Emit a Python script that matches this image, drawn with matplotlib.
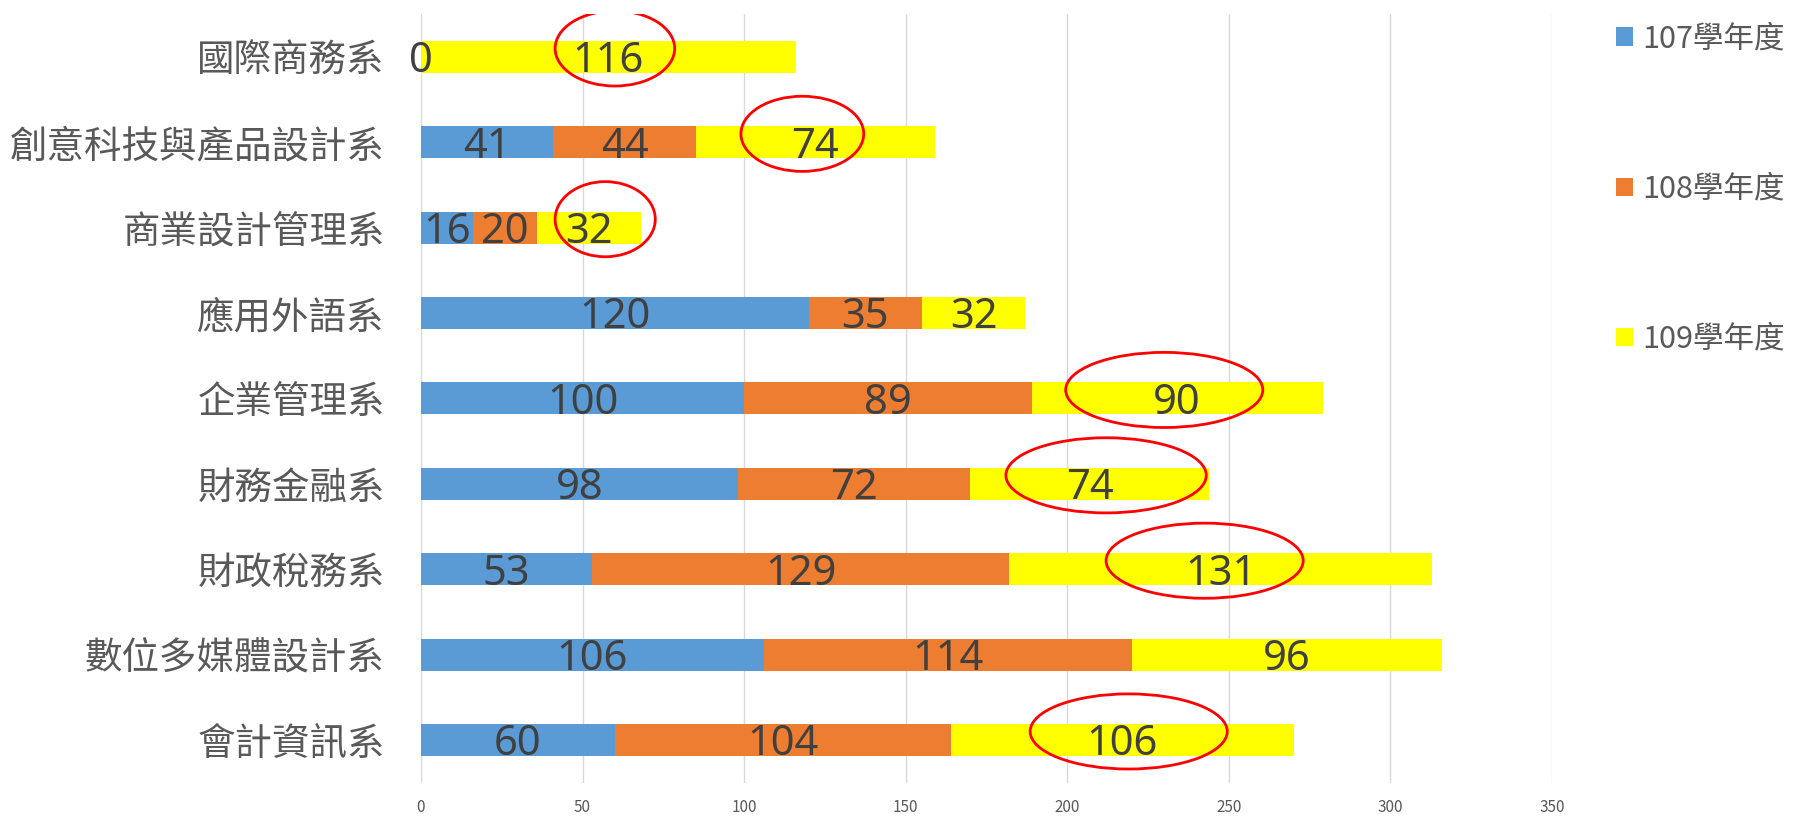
import numpy as np
import matplotlib.pyplot as plt
from matplotlib.patches import Ellipse

plt.rcParams['font.family'] = ['Noto Sans CJK TC', 'DejaVu Sans']

# categories, bottom to top
depts = ['會計資訊系', '數位多媒體設計系', '財政稅務系', '財務金融系', '企業管理系',
         '應用外語系', '商業設計管理系', '創意科技與產品設計系', '國際商務系']
y107 = [60, 106, 53, 98, 100, 120, 16, 41, 0]
y108 = [104, 114, 129, 72, 89, 35, 20, 44, np.nan]
y109 = [106, 96, 131, 74, 90, 32, 32, 74, 116]
series_names = ['107學年度', '108學年度', '109學年度']
xticks = [0, 50, 100, 150, 200, 250, 300, 350]

# red hand-drawn circles around some 109 labels (index into depts)
circled = [0, 2, 3, 4, 6, 7, 8]
circle_w = [61, 61, 62, 61, 31, 38, 37]
circle_dx = [2, -5, 5, -4, 5, -4, 2]

colors = ['#5B9BD5', '#ED7D31', '#FFFF00']

fig = plt.figure(figsize=(17.93, 8.17), dpi=100)
ax = fig.add_axes([0.2348, 0.042, 0.6308, 0.9405])

y = np.arange(len(depts))
left = np.zeros(len(depts))
label_pos = []
for vals, c, name in zip([y107, y108, y109], colors, series_names):
    v = np.array(vals, dtype=float)
    w = np.nan_to_num(v)
    ax.barh(y, w, left=left, height=0.375, color=c, label=name, zorder=2)
    for i, val in enumerate(v):
        if not np.isnan(val):
            ax.text(left[i] + w[i] / 2, y[i] - 0.05, f'{val:g}', ha='center', va='center',
                    fontsize=30, color='#404040', zorder=4,
                    family=['Noto Sans', 'DejaVu Sans'])
    label_pos.append(left + w / 2)
    left = left + w

for k, i in enumerate(circled):
    cx = label_pos[2][i] + circle_dx[k]
    e = Ellipse((cx, y[i] + 0.1), circle_w[k], 0.88, fill=False,
                edgecolor='#FF0000', lw=2, zorder=5)
    ax.add_patch(e)

ax.set_xlim(0, 350)
ax.set_ylim(-0.5, len(depts) - 0.5)
ax.set_xticks(xticks)
ax.set_yticks(y)
ax.set_yticklabels(depts)
ax.tick_params(axis='y', length=0, pad=26, labelsize=27, labelcolor='#595959')
ax.tick_params(axis='x', length=0, pad=12, labelsize=11, labelcolor='#595959')
for s in ax.spines.values():
    s.set_visible(False)
ax.grid(axis='x', color='#D9D9D9', lw=1, zorder=0)
ax.set_axisbelow(True)

fig.legend(loc='upper left', bbox_to_anchor=(0.893, 0.99), frameon=False,
           fontsize=22, labelcolor='#595959', handlelength=0.55, handleheight=0.55,
           handletextpad=0.3, labelspacing=3.9, borderpad=0)

fig.savefig('out.png', dpi=100)
